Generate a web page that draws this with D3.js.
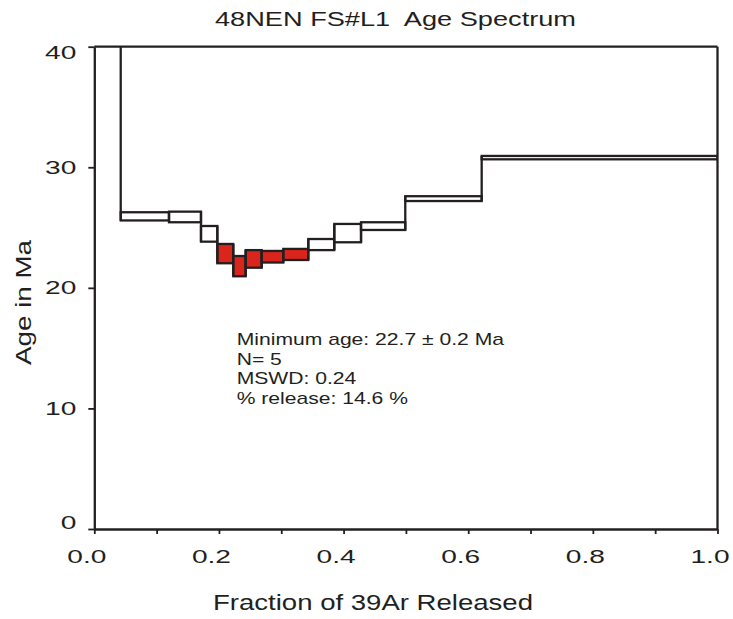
<!DOCTYPE html>
<html>
<head>
<meta charset="utf-8">
<script src="https://cdn.jsdelivr.net/npm/d3@7/dist/d3.min.js"></script>
<style>
  html, body { margin: 0; padding: 0; background: #fff; }
  text { font-family: "Liberation Sans", Arial, Helvetica, sans-serif; fill: #231f20; white-space: pre; }
</style>
</head>
<body>
<svg id="chart" width="733" height="619"></svg>
<script>
// ---- data ----
const stepBounds = [0, 0.0424, 0.1199, 0.1712, 0.1974, 0.2230, 0.2429, 0.2686, 0.3033, 0.3434, 0.3851, 0.4280, 0.4990, 0.6216, 1.0];
const stepAges   = [45.0, 25.93, 25.88, 24.48, 22.84, 21.80, 22.40, 22.58, 22.77, 23.59, 24.54, 25.12, 27.40, 30.80];
const stepErrors = [3.0, 0.34, 0.44, 0.65, 0.80, 0.84, 0.73, 0.48, 0.46, 0.46, 0.76, 0.32, 0.20, 0.14];
const stepIncluded = [false, false, false, false, true, true, true, true, true, false, false, false, false, false];
const xTickValues = [0, 0.1, 0.2, 0.3, 0.4, 0.5, 0.6, 0.7, 0.8, 0.9, 1.0];
const yTickValues = [0, 10, 20, 30, 40];
const titleText = "48NEN FS#L1  Age Spectrum";
const xLabelText = "Fraction of 39Ar Released";
const yLabelText = "Age in Ma";
const noteLines = ["Minimum age: 22.7 \u00b1 0.2 Ma", "N= 5", "MSWD: 0.24", "% release: 14.6 %"];

// ---- layout ----
const mLeft = 94.3, mRight = 717.5, mTop = 46.7, mBottom = 529;
const ink = "#231f20", red = "#da251d";
const tickStretch = 1.52;

const svg = d3.select("#chart");
const x = d3.scaleLinear().domain([0, 1]).range([mLeft, mRight]);
const y = d3.scaleLinear().domain([0, 40]).range([mBottom, mTop]);

svg.append("defs").append("clipPath").attr("id", "plotclip")
  .append("rect").attr("x", mLeft).attr("y", mTop).attr("width", mRight - mLeft).attr("height", mBottom - mTop);

const steps = stepAges.map((a, i) => ({
  x0: stepBounds[i], x1: stepBounds[i + 1],
  lo: a - stepErrors[i], hi: a + stepErrors[i], inc: stepIncluded[i]
}));

const g = svg.append("g").attr("clip-path", "url(#plotclip)");

// boxes
g.selectAll("rect.step").data(steps).join("rect")
  .attr("class", "step")
  .attr("x", d => x(d.x0)).attr("width", d => x(d.x1) - x(d.x0))
  .attr("y", d => y(d.hi)).attr("height", d => y(d.lo) - y(d.hi))
  .attr("fill", d => d.inc ? red : "#fff")
  .attr("stroke", ink).attr("stroke-width", 2.3);

// connecting verticals between consecutive steps
const joins = steps.slice(1).map((d, i) => {
  const p = steps[i];
  return { xv: d.x0, a: Math.min(p.lo, d.lo), b: Math.max(p.hi, d.hi) };
});
g.selectAll("line.join").data(joins).join("line")
  .attr("class", "join")
  .attr("x1", d => x(d.xv)).attr("x2", d => x(d.xv))
  .attr("y1", d => y(d.a)).attr("y2", d => y(d.b))
  .attr("stroke", ink).attr("stroke-width", 2.3);

// frame (top and right)
svg.append("line").attr("x1", mLeft).attr("x2", mRight).attr("y1", mTop).attr("y2", mTop)
  .attr("stroke", ink).attr("stroke-width", 2.3);
svg.append("line").attr("x1", mRight).attr("x2", mRight).attr("y1", mTop).attr("y2", mBottom)
  .attr("stroke", ink).attr("stroke-width", 2.3);

// axes
const fmt = d3.format(".1f");
const xAxis = d3.axisBottom(x).tickValues(xTickValues)
  .tickFormat(d => (Math.round(d * 10) % 2 === 0) ? fmt(d) : "")
  .tickSize(5).tickSizeOuter(0).tickPadding(16);
const gx = svg.append("g").attr("transform", `translate(0,${mBottom})`).call(xAxis);

const yAxis = d3.axisLeft(y).tickValues(yTickValues)
  .tickSize(6).tickSizeOuter(0).tickPadding(12);
const gy = svg.append("g").attr("transform", `translate(${mLeft},0)`).call(yAxis);

[gx, gy].forEach(ax => {
  ax.select(".domain").attr("stroke", ink).attr("stroke-width", 2.3);
  ax.selectAll(".tick line").attr("stroke", ink).attr("stroke-width", 1.8);
  ax.selectAll(".tick text")
    .attr("font-family", "Liberation Sans, Arial, sans-serif")
    .attr("font-size", 18.5).attr("fill", ink);
});
// x tick labels sit a little left of their ticks in the reference
gx.selectAll(".tick text").each(function () {
  d3.select(this).attr("x", 0).attr("transform", `translate(-8,0) scale(${tickStretch},1)`);
});
gy.selectAll(".tick text").each(function () {
  const t = d3.select(this);
  const tx = +t.attr("x") || 0;
  t.attr("x", 0).attr("transform", `translate(${tx},0) scale(${tickStretch},1)`);
});
// keep the end labels of the y axis inside the frame
gy.selectAll(".tick text").attr("dy", d => d === 40 ? "0.62em" : d === 0 ? "-0.05em" : "0.32em");

// title
svg.append("text").attr("x", 395.5).attr("y", 26).attr("text-anchor", "middle")
  .attr("font-size", 20).attr("textLength", 361).attr("lengthAdjust", "spacingAndGlyphs")
  .text(titleText);

// x label
svg.append("text").attr("x", 373).attr("y", 610).attr("text-anchor", "middle")
  .attr("font-size", 22).attr("textLength", 320).attr("lengthAdjust", "spacingAndGlyphs")
  .text(xLabelText);

// y label
svg.append("text").attr("transform", "translate(30.5,302.5) rotate(-90)").attr("text-anchor", "middle")
  .attr("font-size", 22.5).attr("textLength", 125).attr("lengthAdjust", "spacingAndGlyphs")
  .text(yLabelText);

// annotation
const note = svg.append("g").attr("transform", "translate(236.7,345) scale(1.32,1)");
note.selectAll("text").data(noteLines).join("text")
  .attr("x", 0).attr("y", (d, i) => i * 19.7)
  .attr("font-size", 16)
  .text(d => d);
</script>
</body>
</html>
